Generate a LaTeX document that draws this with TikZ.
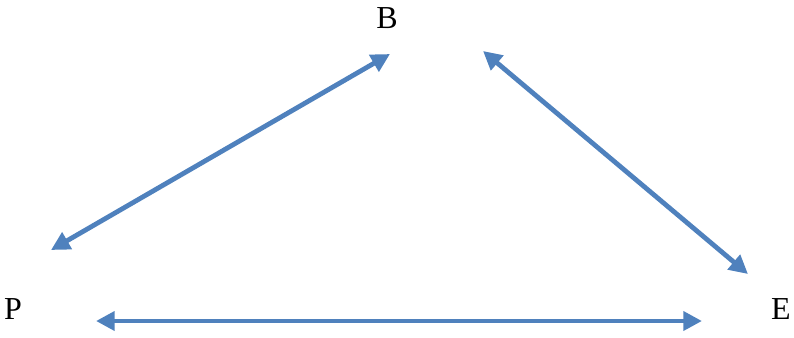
\documentclass[tikz,border=0pt]{standalone}
\usepackage{fontspec}
\setmainfont{Liberation Serif}
\usetikzlibrary{arrows.meta}

\definecolor{linkblue}{RGB}{79,129,189}

\tikzset{
	vertex/.style={inner sep=0.75pt, font=\fontsize{24}{28}\selectfont},
	link/.style={draw=linkblue, line width=3.6pt, {Triangle[length=14pt,width=14pt]}-{Triangle[length=14pt,width=14pt]}}
}

\begin{document}
\begin{tikzpicture}[x=0.75pt,y=0.75pt,yscale=-1,xscale=1]
	\useasboundingbox (0,0) rectangle (794,337);
	
	% Text Node
	\node [vertex] (B) at (387,18) {B};
	% Text Node
	\node [vertex] (P) at (13,309) {P};
	% Text Node
	\node [vertex] (E) at (781,309) {E};
	
	%arrow ends
	\coordinate (pb1) at (51,250);
	\coordinate (pb2) at (390,54);
	\coordinate (be1) at (483,51);
	\coordinate (be2) at (748,274);
	\coordinate (pe1) at (96,321);
	\coordinate (pe2) at (702,321);
	
	%Straight Lines
	\draw [link] (pb1) -- (pb2);
	\draw [link] (be1) -- (be2);
	\draw [link] (pe1) -- (pe2);
	
\end{tikzpicture}
\end{document}
